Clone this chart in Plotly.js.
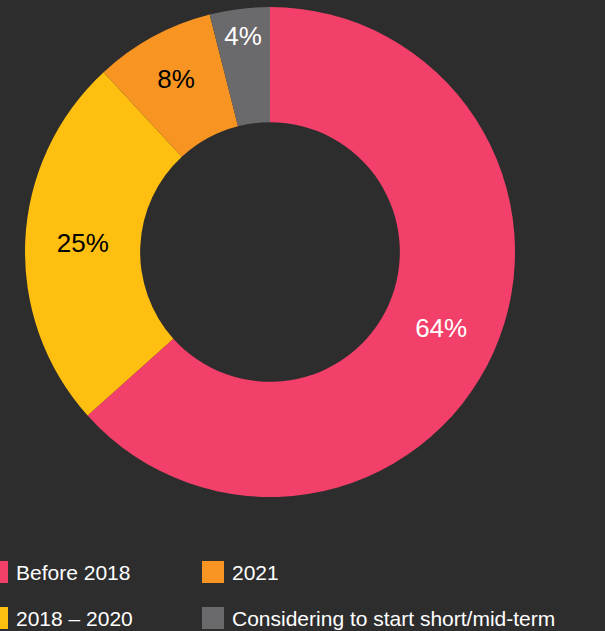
<!DOCTYPE html>
<html>
<head>
<meta charset="utf-8">
<script src="https://cdn.plot.ly/plotly-3.0.1.min.js"></script>
<style>
html,body{margin:0;padding:0;background:#2d2d2d;}
#chart{width:605px;height:631px;}
</style>
</head>
<body>
<div id="chart"></div>
<script>
// Data
const labels = ['Before 2018', '2018 – 2020', '2021', 'Considering to start short/mid-term'];
const values = [64, 25, 8, 4];
const sliceText = ['64%', '25%', '8%', '4%'];
const colors = ['#f2406a', '#ffbf10', '#f79422', '#6a696b'];
const textColors = ['#ffffff', '#000000', '#000000', '#ffffff'];

const W = 605, H = 631;
const px = x => x / W;
const py = y => 1 - y / H;

// legend layout (column-major: 2 per column)
const legendPos = [[0, 561], [0, 607], [202, 561], [202, 607]];
const shapes = [];
const annotations = [];
labels.forEach((lab, i) => {
  const [lx, ly] = legendPos[i];
  shapes.push({
    type: 'rect', xref: 'paper', yref: 'paper',
    x0: px(lx === 0 ? -14 : lx), x1: px(lx + (lx === 0 ? 8 : 22)),
    y0: py(ly + 22), y1: py(ly),
    fillcolor: colors[i], line: {width: 0}
  });
  annotations.push({
    xref: 'paper', yref: 'paper',
    x: px(lx + (lx === 0 ? 14 : 28)), y: py(ly + 11),
    xanchor: 'left', yanchor: 'middle', showarrow: false,
    text: lab, font: {family: 'Liberation Sans, Arial, sans-serif', size: 21, color: '#ffffff'}
  });
});

const trace = {
  type: 'pie',
  labels: labels,
  values: values,
  text: sliceText,
  textinfo: 'text',
  textposition: 'inside',
  insidetextorientation: 'horizontal',
  insidetextfont: {family: 'Liberation Sans, Arial, sans-serif', size: 26, color: textColors},
  hole: 0.53,
  sort: false,
  direction: 'clockwise',
  rotation: 0,
  marker: {colors: colors, line: {width: 0}},
  domain: {x: [px(25), px(515)], y: [py(497), py(7)]},
  showlegend: false,
  hoverinfo: 'label+percent'
};

const layout = {
  width: W, height: H,
  margin: {l: 0, r: 0, t: 0, b: 0},
  paper_bgcolor: '#2d2d2d',
  plot_bgcolor: '#2d2d2d',
  showlegend: false,
  shapes: shapes,
  annotations: annotations,
  font: {family: 'Liberation Sans, Arial, sans-serif', color: '#ffffff'}
};

Plotly.newPlot('chart', [trace], layout, {displayModeBar: false});
</script>
</body>
</html>
